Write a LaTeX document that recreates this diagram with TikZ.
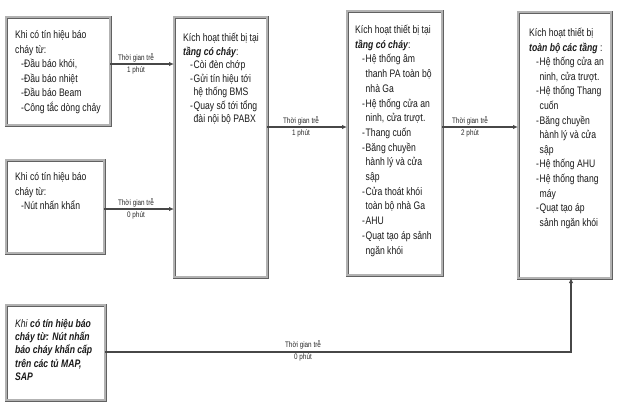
\documentclass[tikz,border=0pt]{standalone}
\usepackage{fontspec}
\setmainfont{Liberation Sans}[FakeStretch=0.79]
\usetikzlibrary{arrows.meta,calc}
\newcommand\lsi[1]{\hspace*{7bp}\makebox[3.5bp][l]{-}#1}
\newcommand\lsc[1]{\hspace*{10.5bp}#1}
\newcommand\lsd[1]{\hspace*{6bp}-#1}
\newcommand\bi[1]{\textbf{\textit{#1}}}
\tikzset{
  frame/.style={draw=black!62, line width=0.9bp, double=black!30, double distance=1.2bp,
    inner sep=0pt, outer sep=0pt, anchor=north west},
  boxtext/.style={anchor=north west, inner sep=0pt, align=left, text=black!90,
    font=\fontsize{10.9bp}{14.5bp}\selectfont},
  lbl/.style={inner sep=0pt, align=center, text=black!85, font=\fontsize{8bp}{12bp}\selectfont},
  conn/.style={draw=black!72, line width=1.1bp, -{Latex[length=5bp,width=4.5bp]}},
}
\begin{document}
\begin{tikzpicture}[x=1bp,y=-1bp]
\useasboundingbox (0,0) rectangle (624,411);
% boxes
\node[frame, minimum width=104bp, minimum height=108bp] (b1) at (6,17) {};
\node[frame, minimum width=98bp, minimum height=93bp] (b2) at (6,160) {};
\node[frame, minimum width=93bp, minimum height=260bp] (b3) at (174,17) {};
\node[frame, minimum width=95bp, minimum height=264bp] (b4) at (347,11) {};
\node[frame, minimum width=93bp, minimum height=266bp] (b5) at (518,12) {};
\node[frame, minimum width=99bp, minimum height=95bp] (b6) at (6,305) {};
% texts
\node[boxtext] (t1) at ($(b1.north west)+(9,13.5)$) {Khi có tín hiệu báo\\cháy từ:\\\lsd{Đầu báo khói,}\\\lsd{Đầu báo nhiệt}\\\lsd{Đầu báo Beam}\\\lsd{Công tắc dòng chảy}};
\node[boxtext] (t2) at ($(b2.north west)+(9,12.5)$) {Khi có tín hiệu báo\\cháy từ:\\\lsd{Nút nhấn khẩn}};
\node[boxtext, font=\fontsize{10.9bp}{13.5bp}\selectfont] (t3) at ($(b3.north west)+(9,16)$) {Kích hoạt thiết bị tại\\\bi{tầng có cháy}:\\\lsi{Còi đèn chớp}\\\lsi{Gửi tín hiệu tới}\\\lsc{hệ thống BMS}\\\lsi{Quay số tới tổng}\\\lsc{đài nội bộ PABX}};
\node[boxtext, font=\fontsize{10.9bp}{14.7bp}\selectfont] (t4) at ($(b4.north west)+(8,14)$) {Kích hoạt thiết bị tại\\\bi{tầng có cháy}:\\\lsi{Hệ thống âm}\\\lsc{thanh PA toàn bộ}\\\lsc{nhà Ga}\\\lsi{Hệ thống cửa an}\\\lsc{ninh, cửa trượt.}\\\lsi{Thang cuốn}\\\lsi{Băng chuyền}\\\lsc{hành lý và cửa}\\\lsc{sập}\\\lsi{Cửa thoát khói}\\\lsc{toàn bộ nhà Ga}\\\lsi{AHU}\\\lsi{Quạt tạo áp sảnh}\\\lsc{ngăn khói}};
\node[boxtext, font=\fontsize{10.9bp}{14.6bp}\selectfont] (t5) at ($(b5.north west)+(11,16)$) {Kích hoạt thiết bị\\\bi{toàn bộ các tầng} :\\\lsi{Hệ thống cửa an}\\\lsc{ninh, cửa trượt.}\\\lsi{Hệ thống Thang}\\\lsc{cuốn}\\\lsi{Băng chuyền}\\\lsc{hành lý và cửa}\\\lsc{sập}\\\lsi{Hệ thống AHU}\\\lsi{Hệ thống thang}\\\lsc{máy}\\\lsi{Quạt tạo áp}\\\lsc{sảnh ngăn khói}};
\node[boxtext, font=\fontsize{10.9bp}{13.3bp}\selectfont] (t6) at ($(b6.north west)+(9,14)$) {\textit{Khi} \bi{có tín hiệu báo}\\\bi{cháy từ: Nút nhấn}\\\bi{báo cháy khẩn cấp}\\\bi{trên các tủ MAP,}\\\bi{SAP}};
% connector levels
\coordinate (y1) at (0,64);
\coordinate (y2) at (0,209);
\coordinate (y3) at (0,127);
\coordinate (y6) at (0,352);
\coordinate (xv) at (571,0);
\draw[conn] (b1.east |- y1) -- (b3.west |- y1);
\draw[conn] (b2.east |- y2) -- (b3.west |- y2);
\draw[conn] (b3.east |- y3) -- (b4.west |- y3);
\draw[conn] (b4.east |- y3) -- (b5.west |- y3);
\draw[conn] (b6.east |- y6) -| (b5.south -| xv);
% labels
\node[lbl] (l1) at (136,64) {Thời gian trễ\\1 phút};
\node[lbl] (l2) at (136,209) {Thời gian trễ\\0 phút};
\node[lbl] (l3) at (301,127) {Thời gian trễ\\1 phút};
\node[lbl] (l4) at (470,127) {Thời gian trễ\\2 phút};
\node[lbl] (l6) at (303,351) {Thời gian trễ\\0 phút};
\end{tikzpicture}
\end{document}
